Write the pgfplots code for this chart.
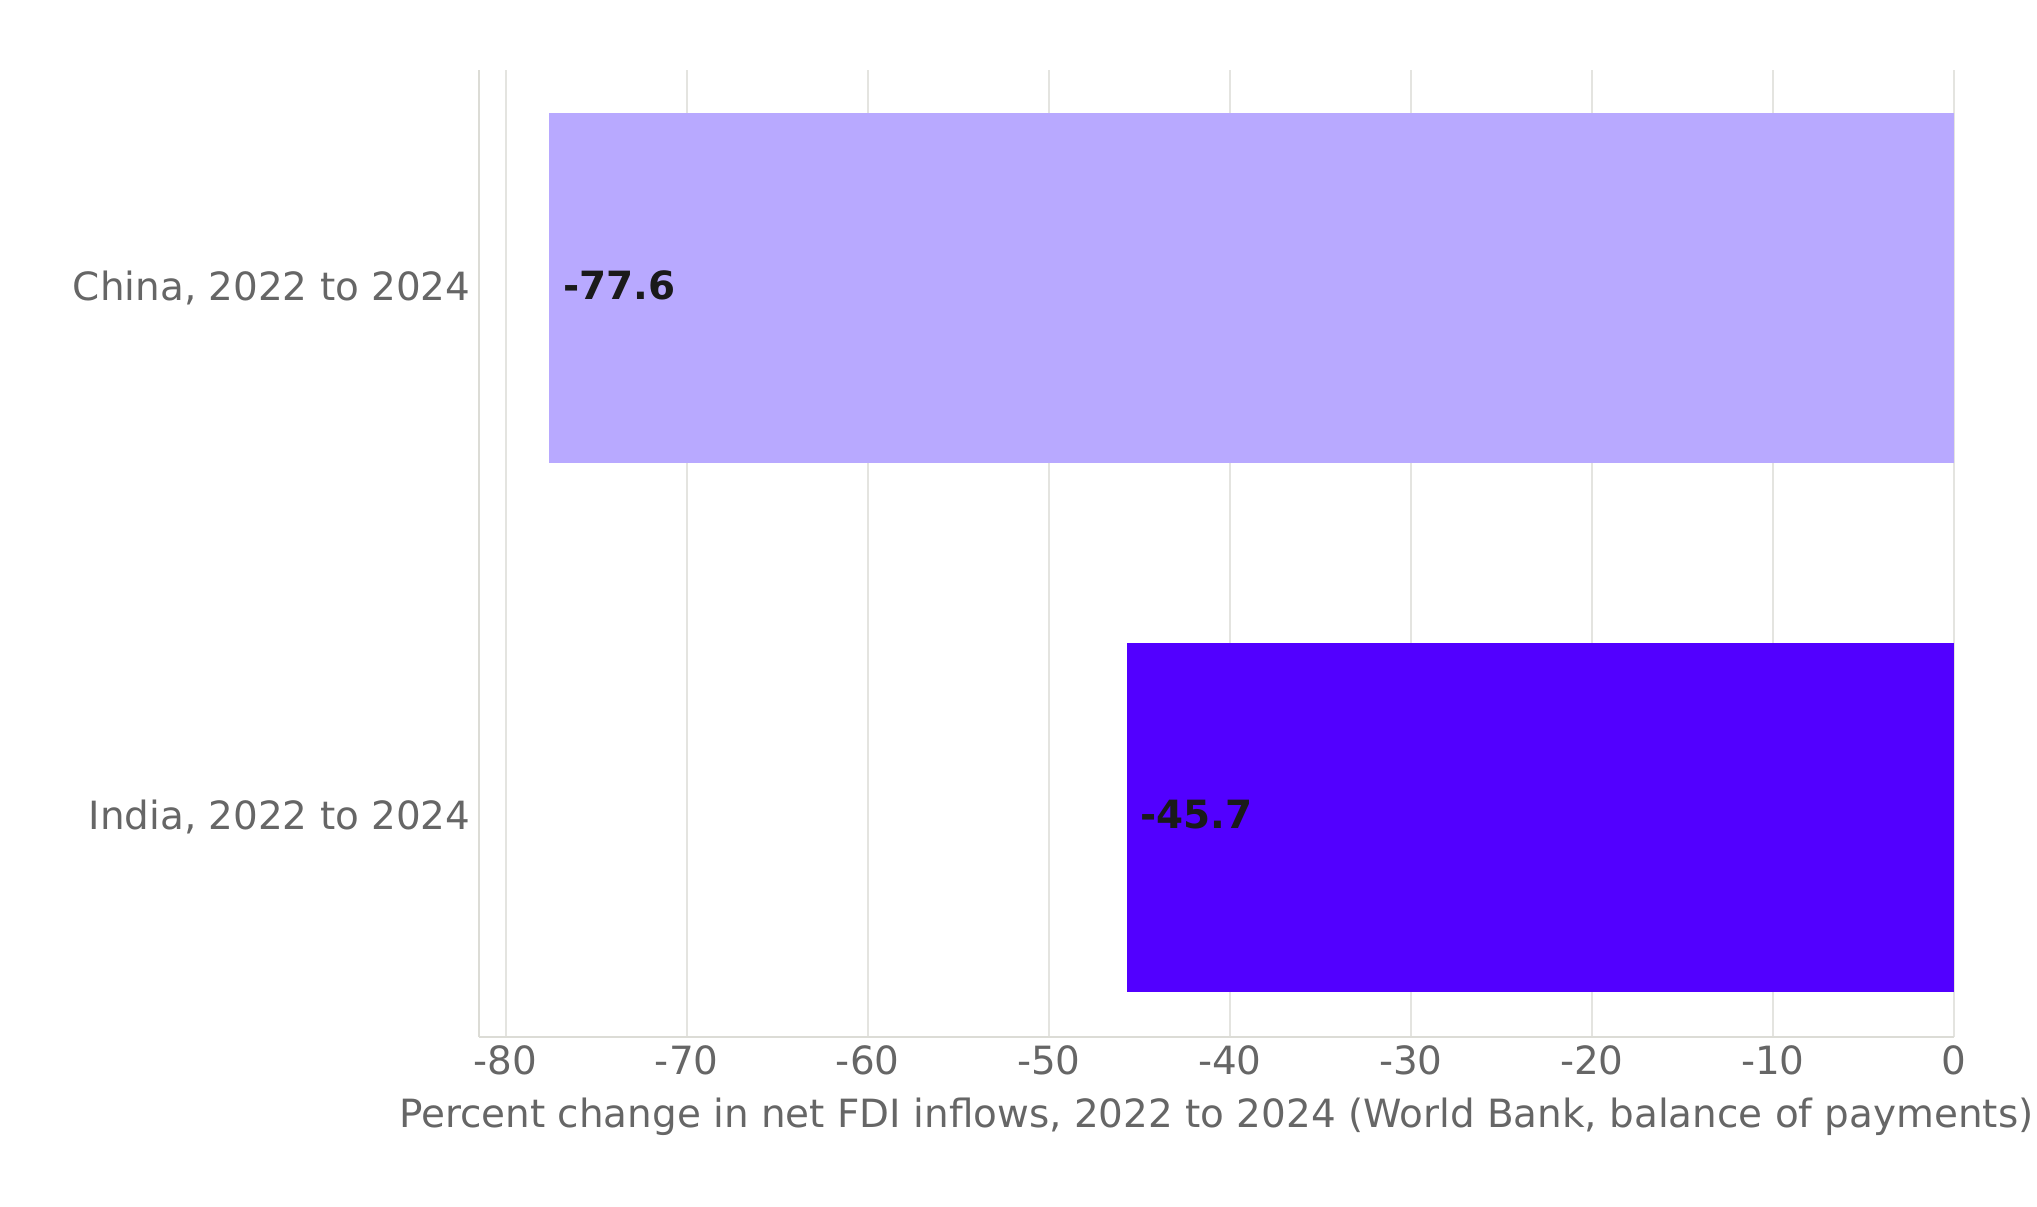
\documentclass[border=0pt]{standalone}
\usepackage{pgfplots}
\pgfplotsset{compat=1.18}
\usepackage{fontspec}
\setmainfont{DejaVu Sans}

\definecolor{tickgrey}{HTML}{666666}
\definecolor{spinegrey}{HTML}{DCDCD6}
\definecolor{gridgrey}{HTML}{E4E4E0}
\definecolor{chinabar}{HTML}{B8A9FF}
\definecolor{indiabar}{HTML}{5200FF}
\definecolor{valuetext}{HTML}{1A1A1A}

\begin{document}
\begin{tikzpicture}
\useasboundingbox (0,0) rectangle (733.3pt,434.2pt);
\begin{axis}[
  at={(172.4pt,60.9pt)}, anchor=south west,
  scale only axis,
  width=531pt, height=348.1pt,
  xbar, bar width=0.66, bar shift=0pt,
  xmin=-81.48, xmax=0,
  ymin=-0.415, ymax=1.412,
  xtick={-80,-70,...,0},
  ytick={0,1},
  yticklabels={{India, 2022 to 2024},{China, 2022 to 2024}},
  axis x line*=bottom, axis y line*=left,
  axis line style={spinegrey, line width=1pt},
  major tick length=0pt,
  xmajorgrids, ymajorgrids=false,
  grid style={gridgrey, line width=0.75pt},
  font=\fontsize{14}{16.8}\selectfont,
  tick label style={tickgrey, font=\fontsize{14}{16.8}\selectfont},
  /pgf/number format/assume math mode=true,
  xticklabel style={yshift=0.5pt},
  yticklabel style={xshift=0.5pt},
  xlabel={Percent change in net FDI inflows, 2022 to 2024 (World Bank, balance of payments)},
  xlabel style={tickgrey, font=\fontsize{14}{16.8}\selectfont, yshift=-1.3pt},
  point meta=explicit symbolic,
  nodes near coords,
  nodes near coords align={anchor=west},
  every node near coord/.append style={
    anchor=west, xshift=1.5pt, yshift=1pt, valuetext,
    font=\fontsize{14}{16.8}\selectfont\bfseries},
]
  % China, 2022 to 2024
  \addplot[fill=chinabar, draw=none] coordinates {(-77.6,1) [-77.6]};
  % India, 2022 to 2024
  \addplot[fill=indiabar, draw=none] coordinates {(-45.7,0) [-45.7]};
\end{axis}
\end{tikzpicture}
\end{document}
